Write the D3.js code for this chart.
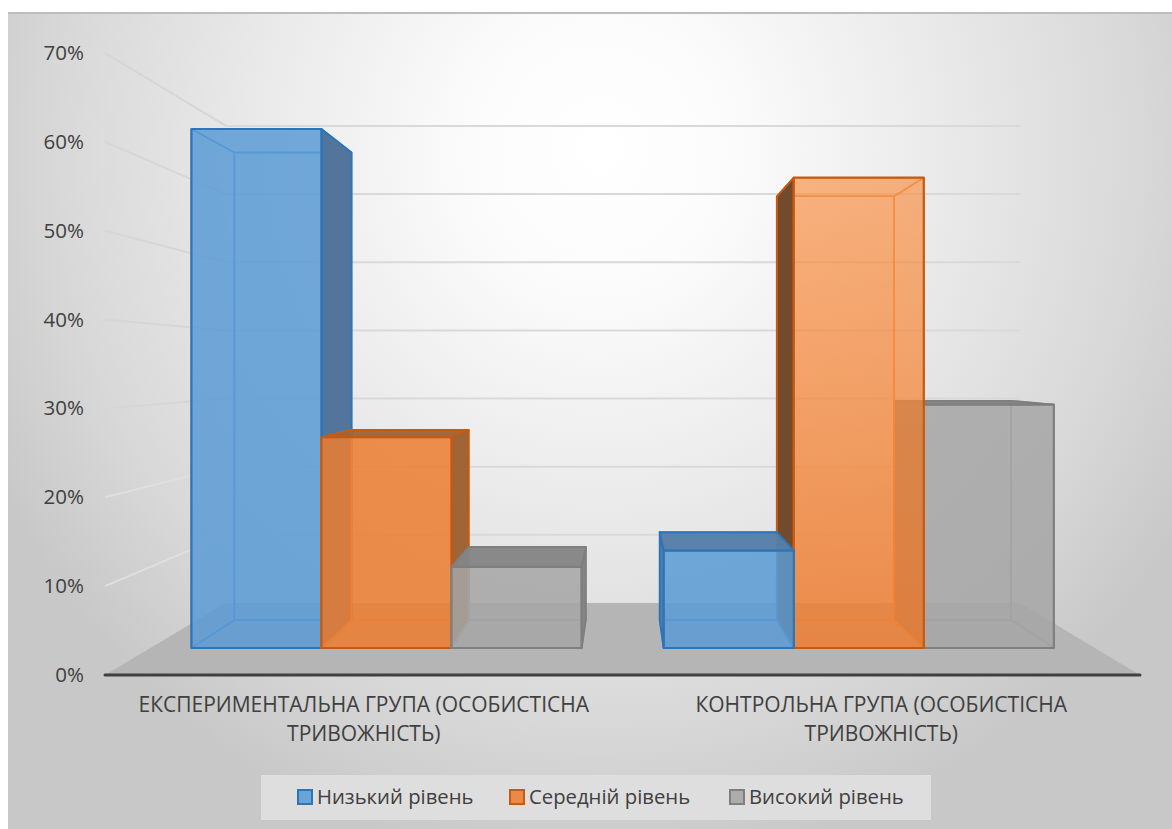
<!DOCTYPE html>
<html lang="uk">
<head>
<meta charset="utf-8">
<script src="https://cdnjs.cloudflare.com/ajax/libs/d3/7.8.5/d3.min.js"></script>
<style>
  html, body { margin: 0; padding: 0; background: #fff; }
  svg { display: block; font-family: "Open Sans", sans-serif; }
</style>
</head>
<body>
<svg id="chart" width="1172" height="829"></svg>
<script>
// Chart values, in percent
const categories = ["ЕКСПЕРИМЕНТАЛЬНА ГРУПА (ОСОБИСТІСНА ТРИВОЖНІСТЬ)", "КОНТРОЛЬНА ГРУПА (ОСОБИСТІСНА ТРИВОЖНІСТЬ)"];
const categoryLines = [["ЕКСПЕРИМЕНТАЛЬНА ГРУПА (ОСОБИСТІСНА", "ТРИВОЖНІСТЬ)"], ["КОНТРОЛЬНА ГРУПА (ОСОБИСТІСНА", "ТРИВОЖНІСТЬ)"]];
const seriesNames = ["Низький рівень", "Середній рівень", "Високий рівень"];
const lowLevel = [64, 12];
const midLevel = [26, 58];
const highLevel = [10, 30];
const seriesValues = [lowLevel, midLevel, highLevel];
const yTicks = [0, 10, 20, 30, 40, 50, 60, 70];

// Series styling
const faceColors = ["#5B9BD5", "#ED7D31", "#A5A5A5"];
const edgeColors = ["#2E75B6", "#C55A11", "#7F7F7F"];
const innerEdgeColors = ["#4A8FD0", "#F28A3C", "#999999"];
const outerFaceColors = [["#53759B", "#557EA8"], ["#9F6438", "#734A2B"], ["#858585", "#858585"]];

const svg = d3.select("#chart");
const defs = svg.append("defs");

// Page-wide backdrop: bright near the upper middle, grey towards the edges
const bg = defs.append("radialGradient").attr("id", "backdrop")
  .attr("gradientUnits", "userSpaceOnUse")
  .attr("cx", 0).attr("cy", 0).attr("r", 1)
  .attr("gradientTransform", "translate(600,150) scale(680,720)");
[[0, "#ffffff"], [0.2, "#fbfbfb"], [0.5, "#eaeaea"], [0.8, "#d8d8d8"], [1, "#c8c8c8"]].forEach(([o, c]) =>
  bg.append("stop").attr("offset", o).attr("stop-color", c));

// Front of the tall orange column fades upward
const fade = defs.append("linearGradient").attr("id", "orangeFade")
  .attr("x1", 0).attr("x2", 0).attr("y1", 0).attr("y2", 1);
fade.append("stop").attr("offset", 0).attr("stop-color", "#FF9444").attr("stop-opacity", 0.42);
fade.append("stop").attr("offset", 1).attr("stop-color", "#ED7D31").attr("stop-opacity", 0.76);

svg.append("rect").attr("x", 8).attr("y", 13).attr("width", 1164).attr("height", 816).attr("fill", "url(#backdrop)");
svg.append("line").attr("x1", 8).attr("x2", 1172).attr("y1", 13).attr("y2", 13)
  .attr("stroke", "#bdbdbd").attr("stroke-width", 2);

// Front-plane scales; depth is expressed as a shrink factor towards the vanishing point
const x0 = d3.scaleBand().domain(categories).range([105, 1140]);
const y = d3.scaleLinear().domain([0, 70]).range([675, 53]);
const vanish = { x: 624, y: 366 };
const depth = { wall: 0.767, barBack: 0.822, barFront: 0.9126, floor: 1 };
const x1 = d3.scaleBand().domain(d3.range(seriesNames.length)).range([45, x0.bandwidth() - 45]);

const project = (xFront, value, s) => [
  vanish.x + (xFront - vanish.x) * s,
  vanish.y + (y(value) - vanish.y) * s
];
const poly = pts => pts.map(p => p.join(",")).join(" ");

// Floor
svg.append("polygon")
  .attr("points", poly([project(105, 0, 1), project(1140, 0, 1), project(1140, 0, depth.wall), project(105, 0, depth.wall)]))
  .attr("fill", "#b5b5b5");

// Gridlines on the back wall and on the left wall
const wallLeft = project(105, 0, depth.wall)[0];
const wallRight = project(1140, 0, depth.wall)[0];
const grid = svg.append("g");
grid.selectAll(".back").data(yTicks.slice(1)).join("line").attr("class", "back")
  .attr("x1", wallLeft).attr("x2", wallRight)
  .attr("y1", d => project(105, d, depth.wall)[1]).attr("y2", d => project(105, d, depth.wall)[1])
  .attr("stroke", "#d9d9d9").attr("stroke-width", 2);
grid.selectAll(".side").data(yTicks.slice(1)).join("line").attr("class", "side")
  .attr("x1", 105).attr("y1", d => y(d))
  .attr("x2", wallLeft).attr("y2", d => project(105, d, depth.wall)[1])
  .attr("stroke", d => d < 30 ? "#dfdfdf" : "#d6d6d6").attr("stroke-width", 2);

// Build a drawing list, furthest column from the vanishing point first
const bars = [];
categories.forEach((c, ci) => seriesNames.forEach((s, si) => {
  const left = x0(c) + x1(si);
  const right = left + x1.bandwidth();
  bars.push({ ci, si, left, right, value: seriesValues[si][ci] });
}));
bars.sort((a, b) =>
  Math.abs((b.left + b.right) / 2 - vanish.x) - Math.abs((a.left + a.right) / 2 - vanish.x));

const barLayer = svg.append("g");
bars.forEach(b => {
  const g = barLayer.append("g");
  const F = depth.barFront, B = depth.barBack, v = b.value;
  const face = {
    front: [project(b.left, 0, F), project(b.right, 0, F), project(b.right, v, F), project(b.left, v, F)],
    back: [project(b.left, 0, B), project(b.right, 0, B), project(b.right, v, B), project(b.left, v, B)],
    bottom: [project(b.left, 0, F), project(b.right, 0, F), project(b.right, 0, B), project(b.left, 0, B)],
    top: [project(b.left, v, F), project(b.right, v, F), project(b.right, v, B), project(b.left, v, B)],
    left: [project(b.left, 0, F), project(b.left, v, F), project(b.left, v, B), project(b.left, 0, B)],
    right: [project(b.right, 0, F), project(b.right, v, F), project(b.right, v, B), project(b.right, 0, B)]
  };
  const leftOfCentre = (b.left + b.right) / 2 < vanish.x;
  const outerSide = leftOfCentre ? "right" : "left";
  const innerSide = leftOfCentre ? "left" : "right";
  const topOutside = y(v) > vanish.y;
  const base = faceColors[b.si], edge = edgeColors[b.si], inner = innerEdgeColors[b.si];

  const draw = (pts, fill, op, stroke, sw) => g.append("polygon")
    .attr("points", poly(pts)).attr("fill", fill).attr("fill-opacity", op)
    .attr("stroke", stroke).attr("stroke-width", sw).attr("stroke-linejoin", "round");

  // Inside of the box, seen through the translucent front
  draw(face.back, base, 0.4, inner, 1.5);
  draw(face.bottom, base, 0.38, inner, 1.5);
  if (!topOutside) draw(face.top, base, 0.38, inner, 1.5);
  draw(face[innerSide], base, 0.38, inner, 1.5);

  // Faces turned towards the viewer from outside
  const outer = outerFaceColors[b.si][b.ci];
  draw(face[outerSide], outer, 1, edge, 2);
  if (topOutside) draw(face.top, outer, 0.95, edge, 2);

  // Front
  const tallOrange = b.si === 1 && b.ci === 1;
  draw(face.front, tallOrange ? "url(#orangeFade)" : base, tallOrange ? 1 : 0.76, edge, 2.2);
});

// Horizontal axis line sits above the floor and the columns
svg.append("line").attr("x1", 105).attr("x2", 1140).attr("y1", y(0)).attr("y2", y(0))
  .attr("stroke", "#404040").attr("stroke-width", 3).attr("stroke-linecap", "round");

// Value axis labels
const yAxis = svg.append("g").attr("transform", "translate(91,0)")
  .call(d3.axisLeft(y).tickValues(yTicks).tickSize(0).tickPadding(7).tickFormat(d => d + "%"));
yAxis.select(".domain").remove();
yAxis.selectAll("text").attr("fill", "#404040").style("font-size", "20.5px")
  .style("font-family", "\"Open Sans\", sans-serif");

// Category labels on two lines
const labels = svg.append("g");
categories.forEach((c, i) => {
  const cx = x0(c) + x0.bandwidth() / 2;
  labels.append("text").attr("text-anchor", "middle").attr("fill", "#404040").style("font-size", "21px")
    .selectAll("tspan").data(categoryLines[i]).join("tspan")
    .attr("x", cx).attr("y", (d, k) => 712 + k * 28.5).text(d => d);
});

// Legend
const legend = svg.append("g");
legend.append("rect").attr("x", 261).attr("y", 775).attr("width", 670).attr("height", 45).attr("fill", "#dedede");
const legendX = [298, 510, 730];
seriesNames.forEach((name, i) => {
  legend.append("rect").attr("x", legendX[i]).attr("y", 790).attr("width", 14).attr("height", 14)
    .attr("fill", faceColors[i]).attr("fill-opacity", 0.88).attr("stroke", edgeColors[i]).attr("stroke-width", 2);
  legend.append("text").attr("x", legendX[i] + 19).attr("y", 804).attr("fill", "#404040")
    .style("font-size", "20.3px").text(name);
});
</script>
</body>
</html>
